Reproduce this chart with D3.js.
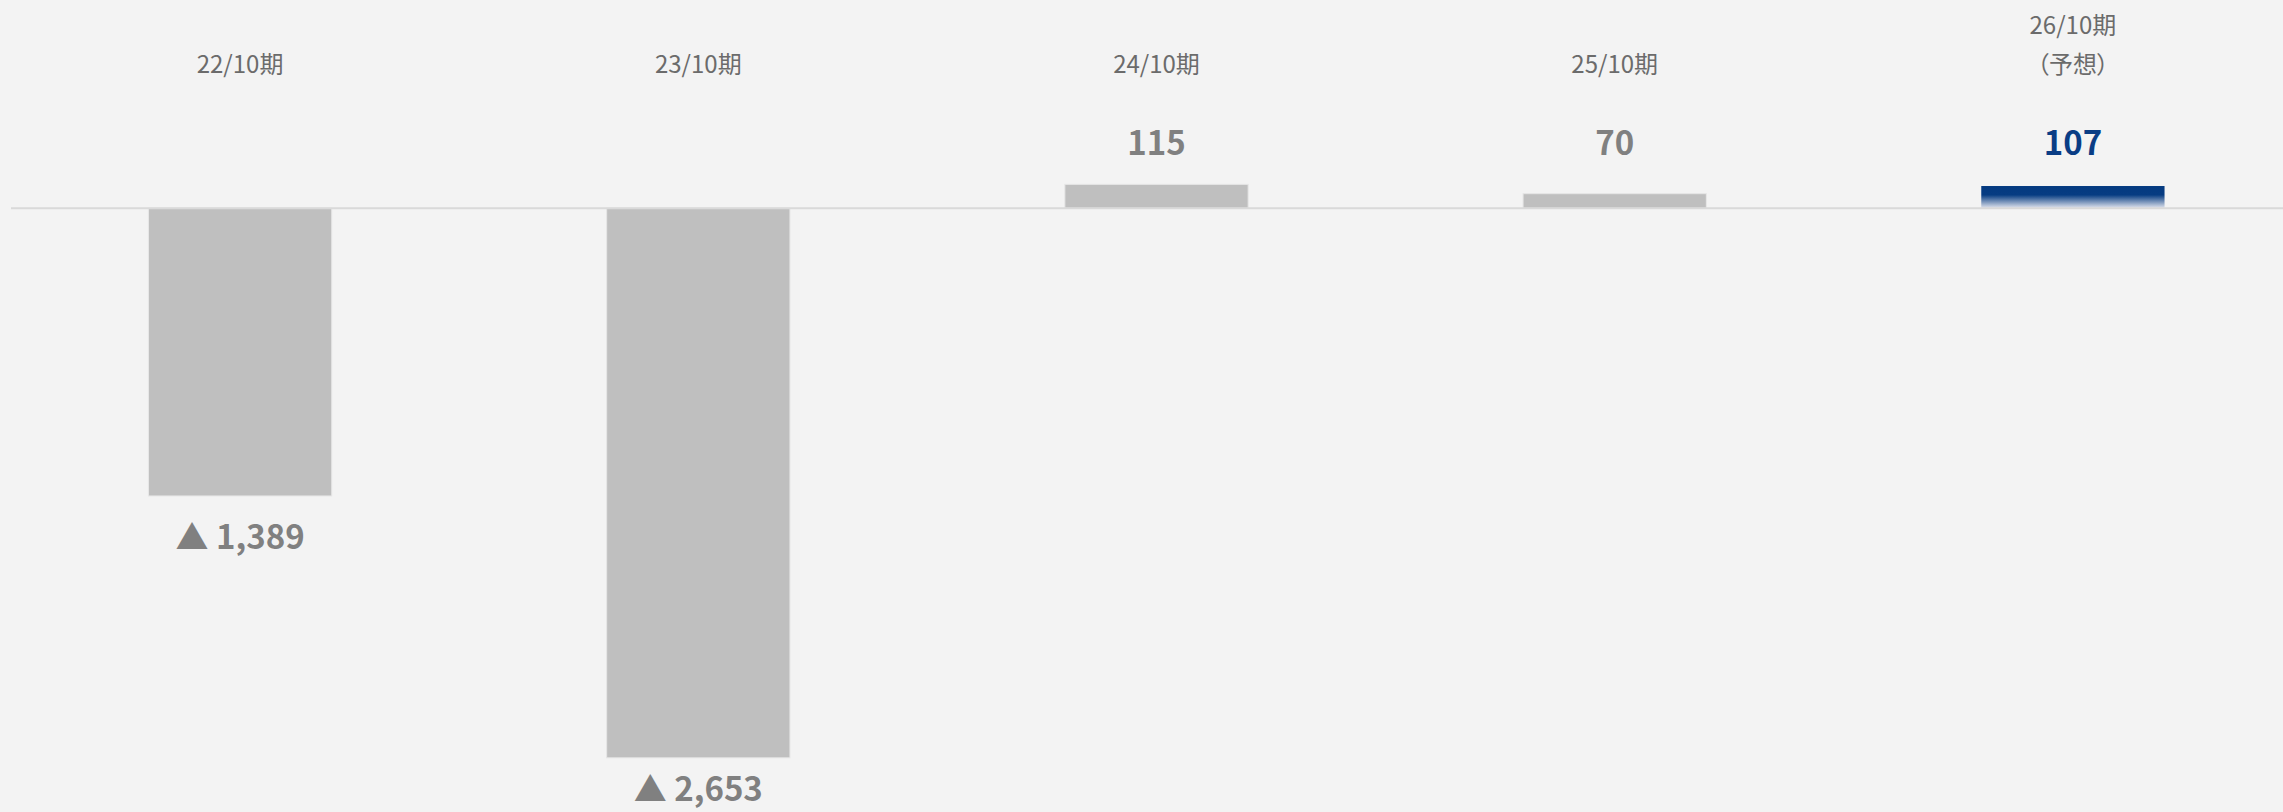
<!DOCTYPE html>
<html lang="ja">
<head>
<meta charset="utf-8">
<script src="https://cdn.jsdelivr.net/npm/d3@7"></script>
<style>
  html, body { margin: 0; padding: 0; background: #f3f3f3; }
  svg { display: block; font-family: "Noto Sans CJK JP", "Noto Sans", sans-serif; }
</style>
</head>
<body>
<svg id="chart" width="2283" height="812"></svg>
<script>
// Fiscal periods (two-line label for the forecast year)
const periods = [["22/10期"], ["23/10期"], ["24/10期"], ["25/10期"], ["26/10期", "（予想）"]];
const periodKeys = ["22/10", "23/10", "24/10", "25/10", "26/10"];
// Values per period; negatives shown with ▲
const values = [-1389, -2653, 115, 70, 107];
// Last period is a forecast
const isForecast = [false, false, false, false, true];

const W = 2283, H = 812;
const svg = d3.select("#chart");

svg.append("rect").attr("width", W).attr("height", H).attr("fill", "#f3f3f3");

const defs = svg.append("defs");
const grad = defs.append("linearGradient")
  .attr("id", "forecastFill").attr("x1", 0).attr("y1", 0).attr("x2", 0).attr("y2", 1);
grad.append("stop").attr("offset", "0%").attr("stop-color", "#043a80");
grad.append("stop").attr("offset", "40%").attr("stop-color", "#063c82");
grad.append("stop").attr("offset", "100%").attr("stop-color", "#e2e5ee");

const x = d3.scaleBand().domain(periodKeys).range([11, 2302]).paddingInner(0.6).paddingOuter(0.3);
const y = d3.scaleLinear().domain([-2900, 1000]).range([809, 1]);
const y0 = y(0);

const data = periodKeys.map((k, i) => ({ key: k, label: periods[i], value: values[i], forecast: isForecast[i] }));

// bars
svg.append("g").selectAll("rect").data(data).join("rect")
  .attr("x", d => x(d.key))
  .attr("width", x.bandwidth())
  .attr("y", d => Math.min(y(d.value), y0))
  .attr("height", d => Math.abs(y(d.value) - y0))
  .attr("fill", d => d.forecast ? "url(#forecastFill)" : "#bfbfbf")
  .attr("stroke", d => d.forecast ? "none" : "#e6e6e6")
  .attr("stroke-width", 1);

// zero line
svg.append("line")
  .attr("x1", 11).attr("x2", W)
  .attr("y1", y0).attr("y2", y0)
  .attr("stroke", "#d9d9d9").attr("stroke-width", 2);

// period labels along the top
const cat = svg.append("g").selectAll("text").data(data).join("text")
  .attr("x", d => x(d.key) + x.bandwidth() / 2)
  .attr("text-anchor", "middle")
  .attr("font-size", 24)
  .attr("fill", "#6b6b6b")
  .style("font-feature-settings", "'palt'");
cat.each(function(d) {
  const t = d3.select(this);
  const n = d.label.length;
  d.label.forEach((line, j) => {
    t.append("tspan")
      .attr("x", x(d.key) + x.bandwidth() / 2)
      .attr("y", 73 - (n - 1 - j) * 39)
      .text(line);
  });
});

// value labels (kept inside the canvas at the bottom)
const fmt = d3.format(",");
svg.append("g").selectAll("text").data(data).join("text")
  .attr("x", d => x(d.key) + x.bandwidth() / 2)
  .attr("y", d => d.value >= 0 ? y0 - 53 : Math.min(y(d.value) + 53, H - 11))
  .attr("text-anchor", "middle")
  .attr("font-size", 33)
  .attr("font-weight", "bold")
  .attr("fill", d => d.forecast ? "#0a3d85" : "#808080")
  .text(d => d.value < 0 ? "▲ " + fmt(-d.value) : fmt(d.value));
</script>
</body>
</html>
